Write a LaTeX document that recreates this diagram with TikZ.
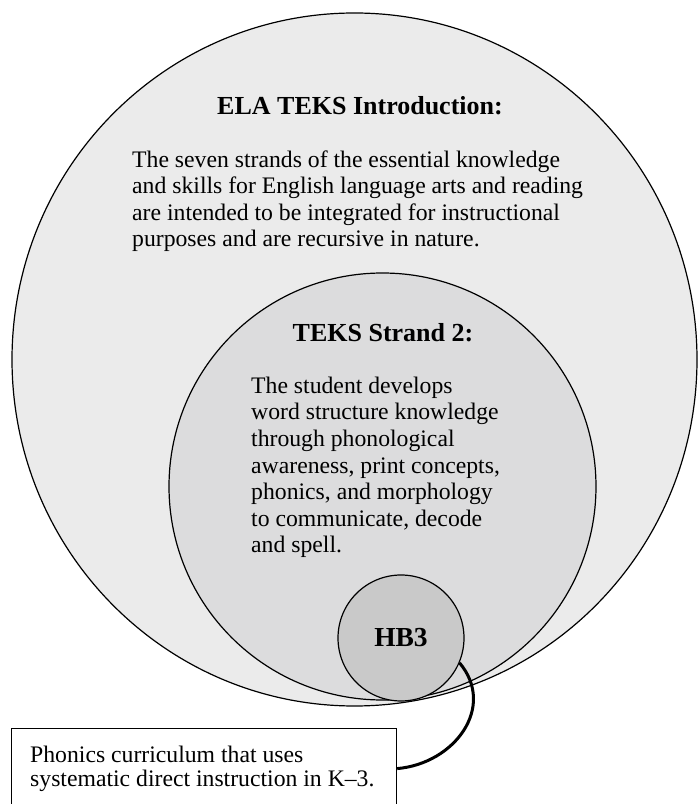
\documentclass[tikz,border=0pt]{standalone}
\usepackage{fontspec}
\setmainfont{Liberation Serif}
\definecolor{grisExterior}{HTML}{EBEBEB}
\definecolor{grisInterior}{HTML}{DCDCDD}
\definecolor{grisHB}{HTML}{C9C9C9}
\tikzset{
  anillo/.style={line width=1.2pt},
  titulo/.style={font=\bfseries\fontsize{26}{30}\selectfont, anchor=base, inner sep=0pt},
  cuerpo/.style={font=\fontsize{23.7}{26.6}\selectfont, anchor=base west, align=left, inner sep=0pt},
}
\begin{document}
\begin{tikzpicture}[x=1pt, y=1pt]
    \useasboundingbox (0,0) rectangle (697,804);

    % Anillo exterior: introducción
    \draw[anillo, fill=grisExterior] (354.5,444.5) ellipse (342.5 and 346.5);
    % Anillo interior: strand 2
    \draw[anillo, fill=grisInterior] (382.5,317.5) circle (213.5);
    % Círculo pequeño HB3
    \node (hb3) at (401,166) [circle, draw, anillo, fill=grisHB, minimum size=126pt, inner sep=0pt,
        font=\bfseries\fontsize{27.5}{30}\selectfont] {HB3};

    % Textos del anillo exterior (el ancla base cae en la última línea)
    \node (tituloEla) at (360,689) [titulo] {ELA TEKS Introduction:};
    \node (textoEla) at (132,557) [cuerpo] {The seven strands of the essential knowledge\\
        and skills for English language arts and reading\\
        are intended to be integrated for instructional\\
        purposes and are recursive in nature.};

    % Textos del anillo interior
    \node (tituloStrand) at (383,462) [titulo] {TEKS Strand 2:};
    \node (textoStrand) at (251,251) [cuerpo] {The student develops\\
        word structure knowledge\\
        through phonological\\
        awareness, print concepts,\\
        phonics, and morphology\\
        to communicate, decode\\
        and spell.};

    % Caja de abajo (se sale por el borde inferior)
    \node (caja) at (11,76) [draw, anillo, anchor=north west, minimum width=385pt, minimum height=80pt, inner sep=0pt] {};
    \node (textoCaja) at (30,17) [cuerpo, font=\fontsize{23.7}{24.5}\selectfont] {Phonics curriculum that uses\\
        systematic direct instruction in K--3.};

    % Conector grueso de HB3 a la caja
    \draw[line width=3pt] (hb3.-23) to[out=-50, in=5, looseness=1.2] (caja.east);

\end{tikzpicture}
\end{document}
